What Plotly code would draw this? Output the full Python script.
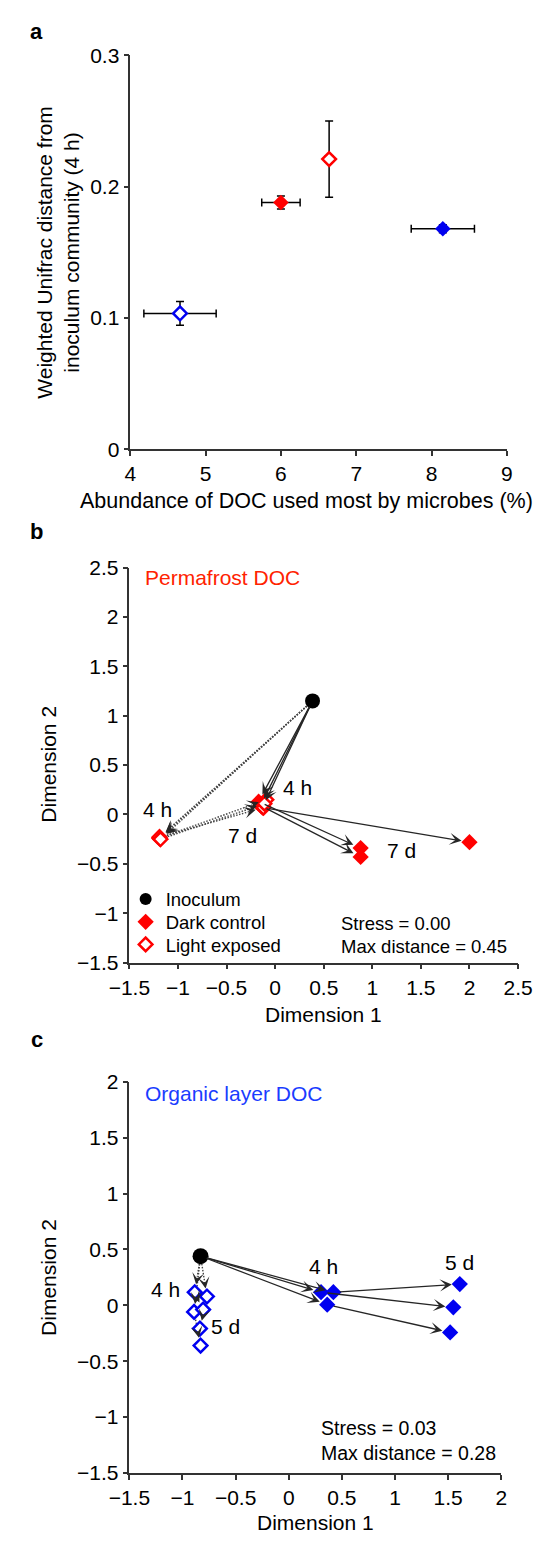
import math
import plotly.graph_objects as go

W, H = 548, 1545
FONT = "Liberation Sans, Arial, Helvetica, sans-serif"
TICK_FS = 21
TITLE_FS = 21
RED = "#ff0000"
BLUE = "#0000f0"
ARROW = "#262626"

# ---------------- Panel a data ----------------
a_names = ["Organic layer, light exposed", "Permafrost, dark control",
           "Permafrost, light exposed", "Organic layer, dark control"]
a_doc = [4.66, 6.00, 6.64, 8.15]
a_doc_err = [0.48, 0.255, 0.05, 0.42]
a_unifrac = [0.1035, 0.188, 0.221, 0.168]
a_unifrac_err = [0.009, 0.005, 0.029, 0.003]
a_colors = [BLUE, RED, RED, BLUE]
a_filled = [False, True, False, True]

# ---------------- Panel b data (Permafrost DOC) ----------------
b_inoc_x = [0.385]
b_inoc_y = [1.15]
b_dark_4h_x = [-0.17, -0.15, -0.13]
b_dark_4h_y = [0.13, 0.09, 0.07]
b_dark_7d_x = [0.88, 0.88, 2.00]
b_dark_7d_y = [-0.34, -0.43, -0.28]
b_light_4h_x = [-1.19, -1.19, -1.18]
b_light_4h_y = [-0.24, -0.23, -0.25]
b_light_7d_x = [-0.09, -0.12, -0.11]
b_light_7d_y = [0.15, 0.07, 0.11]

# ---------------- Panel c data (Organic layer DOC) ----------------
c_inoc_x = [-0.83]
c_inoc_y = [0.44]
c_dark_4h_x = [0.304, 0.42, 0.362]
c_dark_4h_y = [0.117, 0.117, 0.006]
c_dark_5d_x = [1.549, 1.61, 1.519]
c_dark_5d_y = [-0.018, 0.19, -0.243]
c_light_4h_x = [-0.885, -0.77, -0.891]
c_light_4h_y = [0.117, 0.079, -0.059]
c_light_5d_x = [-0.806, -0.836, -0.83]
c_light_5d_y = [-0.038, -0.208, -0.36]

# ---------------- layout geometry (pixels) ----------------
PANELS = {
    "a": dict(px=(117, 520), py=(44, 444), xr=(4, 9), yr=(0, 0.3),
              xt=[4, 5, 6, 7, 8, 9], yt=[0, 0.1, 0.2, 0.3]),
    "b": dict(px=(116, 532), py=(564, 965), xr=(-1.5, 2.5), yr=(-1.5, 2.5),
              xt=[-1.5, -1, -0.5, 0, 0.5, 1, 1.5, 2, 2.5],
              yt=[-1.5, -1, -0.5, 0, 0.5, 1, 1.5, 2, 2.5]),
    "c": dict(px=(116, 514), py=(1086, 1483), xr=(-1.5, 2), yr=(-1.5, 2),
              xt=[-1.5, -1, -0.5, 0, 0.5, 1, 1.5, 2],
              yt=[-1.5, -1, -0.5, 0, 0.5, 1, 1.5, 2]),
}
AX = {"a": ("x", "y"), "b": ("x2", "y2"), "c": ("x3", "y3")}


def fmt(v):
    s = ("%g" % v)
    return s.replace("-", "\u2212")


fig = go.Figure()
annotations = []


def ppu(p):
    g = PANELS[p]
    return ((g["px"][1] - g["px"][0]) / (g["xr"][1] - g["xr"][0]),
            (g["py"][1] - g["py"][0]) / (g["yr"][1] - g["yr"][0]))


def add_arrow(p, x0, y0, x1, y1, dotted, standoff=8, start=5):
    xa, ya = AX[p]
    sx, sy = ppu(p)
    dx, dy = (x1 - x0) * sx, (y1 - y0) * sy
    L = math.hypot(dx, dy)
    ux, uy = dx / L, dy / L
    if not dotted:
        annotations.append(dict(
            x=x1, y=y1, ax=x0, ay=y0, xref=xa, yref=ya, axref=xa, ayref=ya,
            showarrow=True, arrowhead=3, arrowsize=1.55, arrowwidth=1.3,
            arrowcolor=ARROW, standoff=standoff, startstandoff=start, text=""))
    else:
        tail = 16
        fig.add_trace(go.Scatter(
            x=[x0 + ux * start / sx, x1 - ux * tail / sx],
            y=[y0 + uy * start / sy, y1 - uy * tail / sy],
            mode="lines", xaxis=xa, yaxis=ya, showlegend=False, hoverinfo="skip",
            line=dict(color="#444444", width=1.4, dash="1.5px,1.5px")))
        annotations.append(dict(
            x=x1, y=y1, ax=-ux * tail, ay=uy * tail, xref=xa, yref=ya,
            showarrow=True, arrowhead=3, arrowsize=1.55, arrowwidth=1.25,
            arrowcolor=ARROW, standoff=standoff, text=""))


# ---------------- Panel a traces ----------------
for i in range(len(a_doc)):
    fig.add_trace(go.Scatter(
        x=[a_doc[i]], y=[a_unifrac[i]], mode="markers", name=a_names[i],
        xaxis="x", yaxis="y", showlegend=False,
        error_x=dict(type="data", array=[a_doc_err[i]], color="black",
                     thickness=1.5, width=4),
        error_y=dict(type="data", array=[a_unifrac_err[i]], color="black",
                     thickness=1.5, width=4),
        marker=dict(symbol="diamond", size=12 if a_filled[i] else 10.5,
                    color=a_colors[i] if a_filled[i] else "white",
                    line=dict(color=a_colors[i], width=0 if a_filled[i] else 2.5))))

# ---------------- Panel b arrows + traces ----------------
for i in range(3):
    add_arrow("b", b_inoc_x[0], b_inoc_y[0], b_light_4h_x[i], b_light_4h_y[i], True)
    add_arrow("b", b_light_4h_x[i], b_light_4h_y[i], b_light_7d_x[i], b_light_7d_y[i], True)
    add_arrow("b", b_inoc_x[0], b_inoc_y[0], b_dark_4h_x[i], b_dark_4h_y[i], False)
    add_arrow("b", b_dark_4h_x[i], b_dark_4h_y[i], b_dark_7d_x[i], b_dark_7d_y[i], False)

fig.add_trace(go.Scatter(
    x=b_dark_4h_x + b_dark_7d_x, y=b_dark_4h_y + b_dark_7d_y, mode="markers",
    name="Dark control", xaxis="x2", yaxis="y2", legend="legend2",
    marker=dict(symbol="diamond", size=12.5, color=RED, line=dict(width=0))))
fig.add_trace(go.Scatter(
    x=b_light_4h_x + b_light_7d_x, y=b_light_4h_y + b_light_7d_y, mode="markers",
    name="Light exposed", xaxis="x2", yaxis="y2", legend="legend3",
    marker=dict(symbol="diamond", size=10.5, color="white",
                line=dict(color=RED, width=2.5))))
fig.add_trace(go.Scatter(
    x=b_inoc_x, y=b_inoc_y, mode="markers", name="Inoculum",
    xaxis="x2", yaxis="y2", legend="legend",
    marker=dict(symbol="circle", size=15, color="black", line=dict(width=0))))

# ---------------- Panel c arrows + traces ----------------
for i in range(3):
    add_arrow("c", c_inoc_x[0], c_inoc_y[0], c_light_4h_x[i], c_light_4h_y[i], True)
    add_arrow("c", c_light_4h_x[i], c_light_4h_y[i], c_light_5d_x[i], c_light_5d_y[i], True)
    add_arrow("c", c_inoc_x[0], c_inoc_y[0], c_dark_4h_x[i], c_dark_4h_y[i], False)
    add_arrow("c", c_dark_4h_x[i], c_dark_4h_y[i], c_dark_5d_x[i], c_dark_5d_y[i], False)

fig.add_trace(go.Scatter(
    x=c_dark_4h_x + c_dark_5d_x, y=c_dark_4h_y + c_dark_5d_y, mode="markers",
    xaxis="x3", yaxis="y3", showlegend=False,
    marker=dict(symbol="diamond", size=12.5, color=BLUE, line=dict(width=0))))
fig.add_trace(go.Scatter(
    x=c_light_4h_x + c_light_5d_x, y=c_light_4h_y + c_light_5d_y, mode="markers",
    xaxis="x3", yaxis="y3", showlegend=False,
    marker=dict(symbol="diamond", size=10.5, color="white",
                line=dict(color=BLUE, width=2.5))))
fig.add_trace(go.Scatter(
    x=c_inoc_x, y=c_inoc_y, mode="markers", xaxis="x3", yaxis="y3", showlegend=False,
    marker=dict(symbol="circle", size=16, color="black", line=dict(width=0))))

# ---------------- axes ----------------
layout_axes = {}
for k, p in enumerate(["a", "b", "c"]):
    g = PANELS[p]
    suffix = "" if k == 0 else str(k + 1)
    common = dict(showline=True, linecolor="#333333", linewidth=1.5,
                  ticks="outside", ticklen=5, tickwidth=1.5, tickcolor="#333333",
                  showgrid=False, zeroline=False, mirror=False,
                  tickfont=dict(family=FONT, size=TICK_FS, color="black"))
    layout_axes["xaxis" + suffix] = dict(
        common, domain=[g["px"][0] / W, g["px"][1] / W], range=list(g["xr"]),
        tickmode="array", tickvals=g["xt"], ticktext=[fmt(v) for v in g["xt"]],
        anchor="y" + suffix)
    layout_axes["yaxis" + suffix] = dict(
        common, domain=[1 - g["py"][1] / H, 1 - g["py"][0] / H], range=list(g["yr"]),
        tickmode="array", tickvals=g["yt"], ticktext=[fmt(v) for v in g["yt"]],
        anchor="x" + suffix)


def txt(text, x, y, xref, yref, size=21, color="black", xanchor="center",
        yanchor="middle", angle=0, bold=False):
    annotations.append(dict(
        text=("<b>%s</b>" % text) if bold else text, x=x, y=y, xref=xref, yref=yref,
        showarrow=False, xanchor=xanchor, yanchor=yanchor, textangle=angle,
        font=dict(family=FONT, size=size, color=color)))


def paper(px, py):
    return px / W, 1 - py / H


# panel labels
for lab, py in [("a", 20), ("b", 527), ("c", 1043)]:
    x, y = paper(17, py)
    txt(lab, x, y, "paper", "paper", size=22, bold=True)

# axis titles
x, y = paper(306, 496)
txt("Abundance of DOC used most by microbes (%)", x, y, "paper", "paper", size=21.5)
x, y = paper(40, 244)
txt("Weighted Unifrac distance from<br>inoculum community (4 h)", x, y,
    "paper", "paper", size=TITLE_FS, angle=-90)
x, y = paper(324, 1018)
txt("Dimension 1", x, y, "paper", "paper", size=TITLE_FS)
x, y = paper(30, 764)
txt("Dimension 2", x, y, "paper", "paper", size=TITLE_FS, angle=-90)
x, y = paper(315, 1533)
txt("Dimension 1", x, y, "paper", "paper", size=TITLE_FS)
x, y = paper(30, 1285)
txt("Dimension 2", x, y, "paper", "paper", size=TITLE_FS, angle=-90)

# panel b labels
txt("Permafrost DOC", -1.364, 2.40, "x2", "y2", color="#ff2200", xanchor="left")
txt("4 h", 0.234, 0.27, "x2", "y2")
txt("4 h", -1.21, 0.055, "x2", "y2")
txt("7 d", -0.337, -0.21, "x2", "y2")
txt("7 d", 1.30, -0.36, "x2", "y2")
txt("Stress = 0.00", 0.657, -1.103, "x2", "y2", size=18.5, xanchor="left")
txt("Max distance = 0.45", 0.657, -1.332, "x2", "y2", size=18.5, xanchor="left")

# panel c labels
txt("Organic layer DOC", -1.375, 1.90, "x3", "y3", color="#1a3cff", xanchor="left")
txt("4 h", 0.33, 0.346, "x3", "y3")
txt("5 d", 1.61, 0.38, "x3", "y3")
txt("4 h", -1.16, 0.146, "x3", "y3")
txt("5 d", -0.596, -0.19, "x3", "y3")
txt("Stress = 0.03", 0.286, -1.098, "x3", "y3", size=19.5, xanchor="left")
txt("Max distance = 0.28", 0.286, -1.318, "x3", "y3", size=19.5, xanchor="left")

leg_common = dict(xanchor="left", yanchor="middle", bgcolor="rgba(0,0,0,0)",
                  font=dict(family=FONT, size=18.5, color="black"),
                  borderwidth=0, itemwidth=30)
legends = {}
for key, py, sizing in [("legend", 901, "constant"), ("legend2", 924, "trace"),
                        ("legend3", 947, "trace")]:
    lx, ly = paper(112, py)
    legends[key] = dict(leg_common, x=lx, y=ly, itemsizing=sizing)

fig.update_layout(
    width=W, height=H, margin=dict(l=0, r=0, t=0, b=0),
    paper_bgcolor="white", plot_bgcolor="white",
    font=dict(family=FONT, size=TICK_FS, color="black"),
    showlegend=True,
    annotations=annotations,
    **legends,
    **layout_axes)

fig.write_html("out.html")
